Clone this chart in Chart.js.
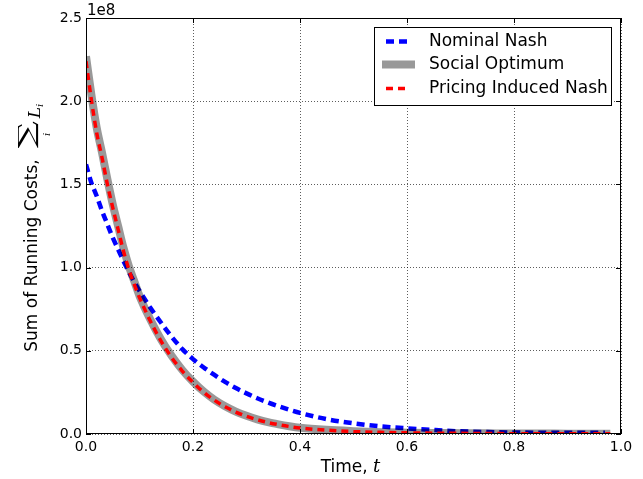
<!DOCTYPE html>
<html>
<head>
<meta charset="utf-8">
<script src="https://cdn.jsdelivr.net/npm/chart.js@4/dist/chart.umd.min.js"></script>
<style>
  body { margin: 0; background: #fff; }
  #myChart { display: block; }
</style>
</head>
<body>
<canvas id="myChart" width="643" height="479"></canvas>
<script>
// values are in units of 1e8
const times = [0, 0.01, 0.02, 0.03, 0.04, 0.05, 0.06, 0.07, 0.08, 0.09, 0.10,
    0.12, 0.14, 0.16, 0.18, 0.20, 0.22, 0.24, 0.26, 0.28, 0.30, 0.32, 0.34,
    0.36, 0.38, 0.40, 0.45, 0.50, 0.55, 0.60, 0.65, 0.70, 0.75, 0.80, 0.85,
    0.90, 0.95, 0.97, 0.98];
const nominalNash = [1.62, 1.51, 1.43, 1.34, 1.26, 1.18, 1.11, 1.04, 0.975, 0.915, 0.86,
    0.76, 0.67, 0.585, 0.51, 0.45, 0.40, 0.355, 0.313, 0.276, 0.244, 0.215, 0.19,
    0.167, 0.146, 0.127, 0.089, 0.064, 0.046, 0.034, 0.024, 0.016, 0.012, 0.009, 0.008,
    0.007, 0.007, 0.007, null];
const socialOptimum = [2.27, 2.04, 1.84, 1.69, 1.53, 1.38, 1.25, 1.12, 1.01, 0.92, 0.83,
    0.69, 0.57, 0.47, 0.385, 0.315, 0.255, 0.206, 0.167, 0.135, 0.109, 0.088, 0.071,
    0.058, 0.047, 0.038, 0.025, 0.017, 0.011, 0.008, 0.006, 0.005, 0.004, 0.003, 0.003,
    0.002, 0.002, 0.002, 0.002];
const pricingNash = [2.24, 2.01, 1.81, 1.66, 1.50, 1.36, 1.23, 1.10, 0.99, 0.90, 0.82,
    0.68, 0.56, 0.46, 0.378, 0.31, 0.251, 0.203, 0.164, 0.132, 0.106, 0.086, 0.069,
    0.056, 0.045, 0.036, 0.023, 0.015, 0.010, 0.007, 0.005, 0.004, 0.003, 0.002, 0.002,
    0.001, 0.001, 0.001, 0.001];
const seriesLabels = ['Nominal Nash', 'Social Optimum', 'Pricing Induced Nash'];
const xTicks = [0, 0.2, 0.4, 0.6, 0.8, 1.0];
const yTicks = [0, 0.5, 1.0, 1.5, 2.0, 2.5];

function pts(vals) {
    return times.map((t, i) => ({ x: t, y: vals[i] }));
}

const FONT = '"DejaVu Sans", "Bitstream Vera Sans", sans-serif';

// frame, inward ticks, offset text, axis titles and legend
const decor = {
    id: 'decor',
    afterDraw(chart) {
        const ctx = chart.ctx;
        const a = chart.chartArea;
        const xs = chart.scales.x, ys = chart.scales.y;
        ctx.save();
        ctx.strokeStyle = '#000';
        ctx.lineWidth = 1;
        ctx.beginPath();
        xTicks.forEach(v => {
            const px = Math.round(xs.getPixelForValue(v)) + 0.5;
            ctx.moveTo(px, a.bottom); ctx.lineTo(px, a.bottom - 5);
            ctx.moveTo(px, a.top); ctx.lineTo(px, a.top + 5);
        });
        yTicks.forEach(v => {
            const py = Math.round(ys.getPixelForValue(v)) + 0.5;
            ctx.moveTo(a.left, py); ctx.lineTo(a.left + 5, py);
            ctx.moveTo(a.right, py); ctx.lineTo(a.right - 5, py);
        });
        ctx.stroke();
        ctx.strokeRect(a.left + 0.5, a.top + 0.5, a.right - a.left - 1, a.bottom - a.top - 1);

        ctx.fillStyle = '#000';
        ctx.font = '15px ' + FONT;
        ctx.textAlign = 'left';
        ctx.textBaseline = 'alphabetic';
        ctx.fillText('1e8', a.left + 1, a.top - 3);

        // x title
        ctx.font = 'italic 18px "DejaVu Serif", serif';
        const wt = ctx.measureText('t').width;
        ctx.font = '17px ' + FONT;
        const xt = 'Time, ';
        const wx = ctx.measureText(xt).width;
        const x0 = (a.left + a.right) / 2 - (wx + wt) / 2 - 3;
        ctx.fillText(xt, x0, 472);
        ctx.font = 'italic 18px "DejaVu Serif", serif';
        ctx.fillText('t', x0 + wx, 472);

        // y title, rotated
        ctx.save();
        ctx.rotate(-Math.PI / 2);
        ctx.font = '17px ' + FONT;
        const yt = 'Sum of Running Costs,';
        const wy = ctx.measureText(yt).width;
        let u = -226 - (wy + 12 + 29 + 18) / 2;
        ctx.fillText(yt, u, 37);
        u += wy + 11;
        // sigma scaled into its box
        ctx.font = '30px "DejaVu Serif", serif';
        const m = ctx.measureText('\u2211');
        const gw = m.actualBoundingBoxLeft + m.actualBoundingBoxRight;
        const gh = m.actualBoundingBoxAscent + m.actualBoundingBoxDescent;
        ctx.save();
        ctx.translate(u, 17);
        ctx.scale(28 / gw, 21 / gh);
        ctx.fillText('\u2211', m.actualBoundingBoxLeft, m.actualBoundingBoxAscent);
        ctx.restore();
        ctx.font = 'italic 10px "DejaVu Serif", serif';
        ctx.textAlign = 'center';
        ctx.fillText('i', u + 14, 50);
        ctx.textAlign = 'left';
        u += 30;
        ctx.font = 'italic 17px "DejaVu Serif", serif';
        ctx.fillText('L', u, 40);
        u += ctx.measureText('L').width;
        ctx.font = 'italic 10px "DejaVu Serif", serif';
        ctx.fillText('i', u, 43);
        ctx.restore();

        // legend
        const bx = 374, by = 27, bw = 237, bh = 78;
        ctx.fillStyle = '#fff';
        ctx.fillRect(bx, by, bw, bh);
        ctx.strokeStyle = '#000';
        ctx.lineWidth = 1;
        ctx.strokeRect(bx + 0.5, by + 0.5, bw, bh);
        const rows = [41.5, 64.5, 88.5];
        chart.data.datasets.forEach((ds, i) => {
            const y = rows[i];
            ctx.save();
            ctx.strokeStyle = ds.borderColor;
            ctx.lineWidth = ds.borderWidth;
            ctx.setLineDash(ds.borderDash || []);
            ctx.beginPath();
            if (ds.borderDash) { ctx.moveTo(386, y); ctx.lineTo(409, y); }
            else { ctx.moveTo(382, y); ctx.lineTo(415, y); }
            ctx.stroke();
            ctx.restore();
            ctx.fillStyle = '#000';
            ctx.font = '17px ' + FONT;
            ctx.textBaseline = 'middle';
            ctx.fillText(seriesLabels[i], 429, y);
        });
        ctx.restore();
    }
};

const ctx = document.getElementById('myChart').getContext('2d');
new Chart(ctx, {
    type: 'line',
    data: {
        datasets: [
            {
                label: seriesLabels[0],
                data: pts(nominalNash),
                borderColor: '#0000ff',
                borderWidth: 4.5,
                borderDash: [8, 5],
                order: 3
            },
            {
                label: seriesLabels[1],
                data: pts(socialOptimum),
                borderColor: 'rgba(0, 0, 0, 0.4)',
                borderWidth: 8,
                order: 2
            },
            {
                label: seriesLabels[2],
                data: pts(pricingNash),
                borderColor: '#ff0000',
                borderWidth: 3.5,
                borderDash: [7, 5],
                order: 1
            }
        ]
    },
    options: {
        responsive: false,
        devicePixelRatio: 1,
        animation: false,
        layout: { padding: { top: 18, right: 22, left: 0, bottom: 0 } },
        elements: {
            point: { radius: 0 },
            line: { cubicInterpolationMode: 'monotone', fill: false, borderCapStyle: 'butt' }
        },
        plugins: {
            legend: { display: false },
            tooltip: { enabled: false }
        },
        scales: {
            x: {
                type: 'linear',
                min: 0, max: 1,
                afterFit: s => { s.height = 45; },
                afterBuildTicks: s => { s.ticks = xTicks.map(v => ({ value: v })); },
                ticks: {
                    color: '#000',
                    font: { family: FONT, size: 14 },
                    padding: 5,
                    maxRotation: 0,
                    callback: v => Number(v).toFixed(1)
                },
                grid: { color: 'rgba(0,0,0,0.8)', lineWidth: 0.8, drawTicks: false },
                border: { display: false, dash: [1, 2] }
            },
            y: {
                min: 0, max: 2.5,
                afterFit: s => { s.width = 86; },
                afterBuildTicks: s => { s.ticks = yTicks.map(v => ({ value: v })); },
                ticks: {
                    color: '#000',
                    font: { family: FONT, size: 14 },
                    padding: 4,
                    callback: v => Number(v).toFixed(1)
                },
                grid: { color: 'rgba(0,0,0,0.8)', lineWidth: 0.8, drawTicks: false },
                border: { display: false, dash: [1, 2] }
            }
        }
    },
    plugins: [decor]
});
</script>
</body>
</html>
